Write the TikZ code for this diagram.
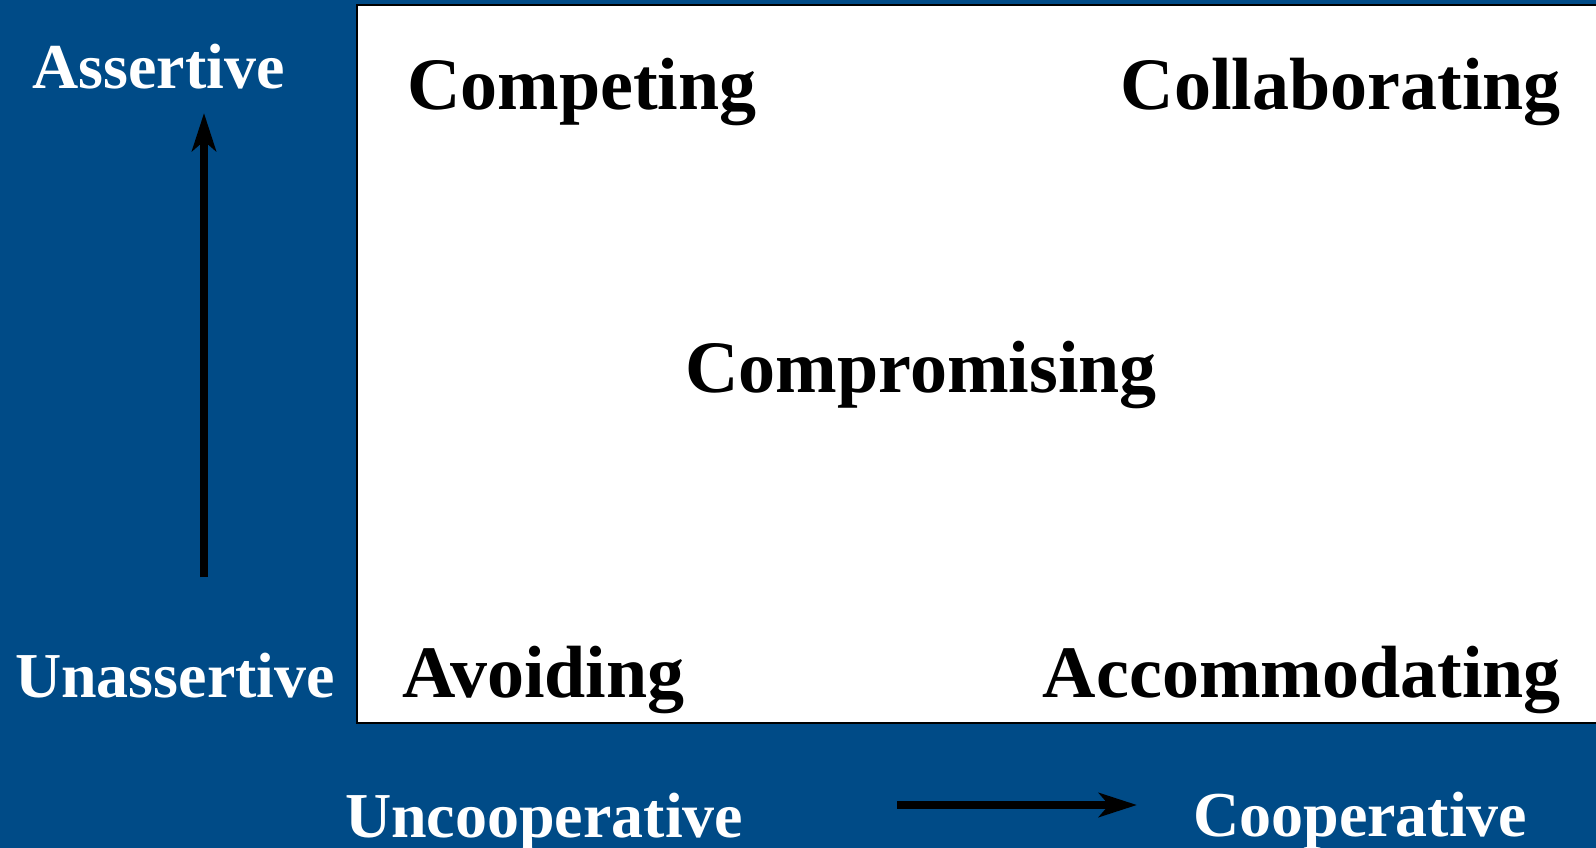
\documentclass[tikz,border=0pt]{standalone}
\usepackage{fontspec}
\setmainfont{Liberation Serif}
\usetikzlibrary{arrows.meta}
\definecolor{panelblue}{RGB}{0,75,135}
\tikzset{
  axislabel/.style={text=white, font=\fontsize{64}{64}\selectfont\bfseries, inner sep=0pt},
  stylelabel/.style={text=black, font=\fontsize{74}{74}\selectfont\bfseries, inner sep=0pt},
  axisarrow/.style={line width=7.5pt, -{Stealth[length=38pt,width=24pt,inset=10pt]}}
}
\begin{document}
\begin{tikzpicture}[x=1pt,y=-1pt]
  % background panel
  \fill[panelblue] (0,0) rectangle (1596,848);
  \clip (0,0) rectangle (1596,848);
  \useasboundingbox (0,0) rectangle (1596,848);
  % white grid field
  \draw[fill=white, line width=2.2pt] (357,5) rectangle (1610,723);

  % conflict-handling styles
  \node[stylelabel, anchor=base west] (competing) at (407,110) {Competing};
  \node[stylelabel, anchor=base east] (collaborating) at (1561,110) {Collaborating};
  \node[stylelabel, anchor=base] (compromising) at (921,392) {Compromising};
  \node[stylelabel, anchor=base west] (avoiding) at (402,697) {Avoiding};
  \node[stylelabel, anchor=base east] (accommodating) at (1561,697) {Accommodating};

  % axis labels
  \node[axislabel, anchor=base west] (assertive) at (32,89) {Assertive};
  \node[axislabel, anchor=base west] (unassertive) at (15,697) {Unassertive};
  \node[axislabel, anchor=base west] (uncooperative) at (345,837) {Uncooperative};
  \node[axislabel, anchor=base west] (cooperative) at (1193,836) {Cooperative};

  % axis arrows
  \coordinate (vtail) at (204,577);
  \coordinate (vhead) at (204,113);
  \coordinate (htail) at (897,805);
  \coordinate (hhead) at (1137,805);
  \draw[axisarrow] (vtail) -- (vhead);
  \draw[axisarrow] (htail) -- (hhead);
\end{tikzpicture}
\end{document}
